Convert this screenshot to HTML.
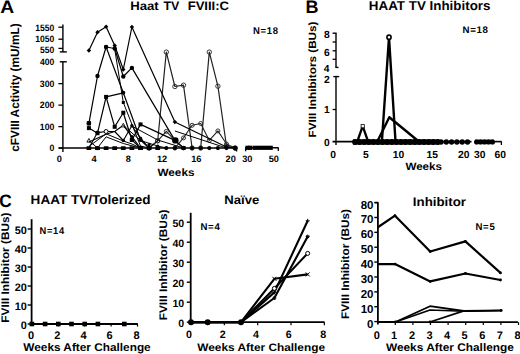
<!DOCTYPE html>
<html><head><meta charset="utf-8"><style>
html,body{margin:0;padding:0;background:#fff;}
svg{display:block;}
text{font-family:"Liberation Sans",sans-serif;font-weight:bold;fill:#000;text-rendering:geometricPrecision;}
</style></head><body>
<svg width="520" height="354" viewBox="0 0 520 354">
<rect width="520" height="354" fill="#fff"/>
<text transform="translate(0.22,12.70) scale(1.0697,1)" font-size="18">A</text>
<text transform="translate(130.14,9.60) scale(1.0785,1)" font-size="12.2">Haat</text>
<text transform="translate(163.38,9.60) scale(1.0213,1)" font-size="12.2">TV</text>
<text transform="translate(187.65,9.60) scale(1.0729,1)" font-size="12.2">FVIII:C</text>
<text transform="translate(252.98,34.40) scale(0.9704,1)" font-size="9.8" letter-spacing="0.7">N=18</text>
<text transform="translate(18.60,151.77) rotate(-90) scale(0.9854,1)" font-size="12.0">cFVIII Activity (mU/mL)</text>
<line x1="62.90" y1="24.40" x2="62.90" y2="51.90" stroke="#000" stroke-width="1.4" />
<line x1="59.80" y1="51.90" x2="66.80" y2="51.90" stroke="#000" stroke-width="1.4" />
<line x1="58.40" y1="27.20" x2="62.90" y2="27.20" stroke="#000" stroke-width="1.3" />
<line x1="58.40" y1="39.20" x2="62.90" y2="39.20" stroke="#000" stroke-width="1.3" />
<line x1="58.40" y1="48.40" x2="62.90" y2="48.40" stroke="#000" stroke-width="1.3" />
<line x1="62.90" y1="61.80" x2="62.90" y2="151.90" stroke="#000" stroke-width="1.4" />
<line x1="59.80" y1="61.80" x2="66.80" y2="61.80" stroke="#000" stroke-width="1.4" />
<line x1="58.40" y1="83.66" x2="62.90" y2="83.66" stroke="#000" stroke-width="1.3" />
<line x1="58.40" y1="105.14" x2="62.90" y2="105.14" stroke="#000" stroke-width="1.3" />
<line x1="58.40" y1="126.62" x2="62.90" y2="126.62" stroke="#000" stroke-width="1.3" />
<line x1="58.40" y1="148.10" x2="62.90" y2="148.10" stroke="#000" stroke-width="1.3" />
<text transform="translate(35.31,30.90) scale(0.9300,1)" font-size="9.2">1550</text>
<text transform="translate(35.31,42.00) scale(0.9300,1)" font-size="9.2">1050</text>
<text transform="translate(40.10,52.70) scale(0.9300,1)" font-size="9.2">550</text>
<text transform="translate(40.10,64.80) scale(0.9300,1)" font-size="9.2">400</text>
<text transform="translate(39.80,86.96) scale(0.9500,1)" font-size="9.2">300</text>
<text transform="translate(39.80,108.44) scale(0.9500,1)" font-size="9.2">200</text>
<text transform="translate(39.80,129.92) scale(0.9500,1)" font-size="9.2">100</text>
<text transform="translate(49.50,151.40) scale(0.9500,1)" font-size="9.2">0</text>
<line x1="58.80" y1="148.10" x2="236.80" y2="148.10" stroke="#000" stroke-width="1.5" />
<line x1="245.20" y1="147.80" x2="278.60" y2="147.80" stroke="#000" stroke-width="1.5" />
<line x1="278.30" y1="147.80" x2="278.30" y2="151.00" stroke="#000" stroke-width="1.3" />
<text transform="translate(56.75,161.90) scale(1.0000,1)" font-size="9.2">0</text>
<text transform="translate(91.60,161.90) scale(1.0000,1)" font-size="9.2">4</text>
<text transform="translate(125.85,161.90) scale(1.0000,1)" font-size="9.2">8</text>
<text transform="translate(156.98,161.90) scale(1.0000,1)" font-size="9.2">12</text>
<text transform="translate(191.26,161.90) scale(1.0000,1)" font-size="9.2">16</text>
<text transform="translate(225.62,161.90) scale(1.0000,1)" font-size="9.2">20</text>
<text transform="translate(242.26,161.90) scale(1.0000,1)" font-size="9.2">30</text>
<text transform="translate(268.64,161.90) scale(1.0000,1)" font-size="9.2">50</text>
<text transform="translate(157.50,175.60) scale(1.0969,1)" font-size="10.7">Weeks</text>
<polyline points="149.10,148.00 157.70,140.80 166.30,52.10 174.90,86.50 183.50,85.20 192.10,148.00" fill="none" stroke="#222" stroke-width="1.2" stroke-linejoin="round" />
<circle cx="149.10" cy="148.00" r="2.20" fill="none" stroke="#222" stroke-width="0.9"/>
<circle cx="157.70" cy="140.80" r="2.20" fill="none" stroke="#222" stroke-width="0.9"/>
<circle cx="166.30" cy="52.10" r="2.20" fill="none" stroke="#222" stroke-width="0.9"/>
<circle cx="174.90" cy="86.50" r="2.20" fill="none" stroke="#222" stroke-width="0.9"/>
<circle cx="183.50" cy="85.20" r="2.20" fill="none" stroke="#222" stroke-width="0.9"/>
<circle cx="192.10" cy="148.00" r="2.20" fill="none" stroke="#222" stroke-width="0.9"/>
<polyline points="200.70,148.00 209.30,52.10 217.90,86.20 226.50,146.00 235.10,148.00" fill="none" stroke="#222" stroke-width="1.2" stroke-linejoin="round" />
<circle cx="200.70" cy="148.00" r="2.20" fill="none" stroke="#222" stroke-width="0.9"/>
<circle cx="209.30" cy="52.10" r="2.20" fill="none" stroke="#222" stroke-width="0.9"/>
<circle cx="217.90" cy="86.20" r="2.20" fill="none" stroke="#222" stroke-width="0.9"/>
<circle cx="226.50" cy="146.00" r="2.20" fill="none" stroke="#222" stroke-width="0.9"/>
<circle cx="235.10" cy="148.00" r="2.20" fill="none" stroke="#222" stroke-width="0.9"/>
<polyline points="174.90,148.00 183.50,137.90 192.10,125.30 200.70,123.50 209.30,140.40 217.90,130.90 226.50,144.00 235.10,148.00" fill="none" stroke="#222" stroke-width="1.1" stroke-linejoin="round" />
<circle cx="174.90" cy="148.00" r="2.00" fill="none" stroke="#222" stroke-width="0.9"/>
<circle cx="183.50" cy="137.90" r="2.00" fill="none" stroke="#222" stroke-width="0.9"/>
<circle cx="192.10" cy="125.30" r="2.00" fill="none" stroke="#222" stroke-width="0.9"/>
<circle cx="200.70" cy="123.50" r="2.00" fill="none" stroke="#222" stroke-width="0.9"/>
<circle cx="209.30" cy="140.40" r="2.00" fill="none" stroke="#222" stroke-width="0.9"/>
<circle cx="217.90" cy="130.90" r="2.00" fill="none" stroke="#222" stroke-width="0.9"/>
<circle cx="226.50" cy="144.00" r="2.00" fill="none" stroke="#222" stroke-width="0.9"/>
<circle cx="235.10" cy="148.00" r="2.00" fill="none" stroke="#222" stroke-width="0.9"/>
<polyline points="149.10,148.00 157.70,140.80 166.30,131.40 174.90,140.40" fill="none" stroke="#222" stroke-width="1.1" stroke-linejoin="round" />
<circle cx="149.10" cy="148.00" r="2.00" fill="none" stroke="#222" stroke-width="0.9"/>
<circle cx="157.70" cy="140.80" r="2.00" fill="none" stroke="#222" stroke-width="0.9"/>
<circle cx="166.30" cy="131.40" r="2.00" fill="none" stroke="#222" stroke-width="0.9"/>
<circle cx="174.90" cy="140.40" r="2.00" fill="none" stroke="#222" stroke-width="0.9"/>
<polyline points="88.90,50.50 97.50,32.20 106.10,26.80 114.70,45.50 123.30,69.50 131.90,27.00 174.90,122.00 226.50,147.00 235.10,148.00" fill="none" stroke="#000" stroke-width="1.2" stroke-linejoin="round" />
<path d="M88.90,48.30L91.10,50.50L88.90,52.70L86.70,50.50Z" fill="#000"/>
<path d="M97.50,30.00L99.70,32.20L97.50,34.40L95.30,32.20Z" fill="#000"/>
<path d="M106.10,24.60L108.30,26.80L106.10,29.00L103.90,26.80Z" fill="#000"/>
<path d="M114.70,43.30L116.90,45.50L114.70,47.70L112.50,45.50Z" fill="#000"/>
<path d="M123.30,67.30L125.50,69.50L123.30,71.70L121.10,69.50Z" fill="#000"/>
<path d="M131.90,24.80L134.10,27.00L131.90,29.20L129.70,27.00Z" fill="#000"/>
<path d="M174.90,119.80L177.10,122.00L174.90,124.20L172.70,122.00Z" fill="#000"/>
<path d="M226.50,144.80L228.70,147.00L226.50,149.20L224.30,147.00Z" fill="#000"/>
<path d="M235.10,145.80L237.30,148.00L235.10,150.20L232.90,148.00Z" fill="#000"/>
<polyline points="88.90,123.30 97.50,76.00 106.10,47.00 114.70,48.50 123.30,76.50 131.90,67.90 174.90,140.40 183.50,148.00" fill="none" stroke="#000" stroke-width="1.2" stroke-linejoin="round" />
<circle cx="88.90" cy="123.30" r="2.20" fill="#000"/>
<circle cx="97.50" cy="76.00" r="2.20" fill="#000"/>
<circle cx="106.10" cy="47.00" r="2.20" fill="#000"/>
<circle cx="114.70" cy="48.50" r="2.20" fill="#000"/>
<circle cx="123.30" cy="76.50" r="2.20" fill="#000"/>
<circle cx="131.90" cy="67.90" r="2.20" fill="#000"/>
<circle cx="174.90" cy="140.40" r="2.20" fill="#000"/>
<circle cx="183.50" cy="148.00" r="2.20" fill="#000"/>
<rect x="86.80" y="121.20" width="4.20" height="4.20" fill="#000"/>
<polyline points="106.10,47.00 123.30,92.80 140.50,140.00 149.10,148.00" fill="none" stroke="#000" stroke-width="1.2" stroke-linejoin="round" />
<circle cx="106.10" cy="47.00" r="2.00" fill="#000"/>
<circle cx="123.30" cy="92.80" r="2.00" fill="#000"/>
<circle cx="140.50" cy="140.00" r="2.00" fill="#000"/>
<circle cx="149.10" cy="148.00" r="2.00" fill="#000"/>
<polyline points="114.70,49.00 123.30,102.50 140.50,146.00 149.10,148.00" fill="none" stroke="#000" stroke-width="1.0" stroke-linejoin="round" />
<polyline points="88.90,128.10 97.50,133.20 106.10,96.90 114.70,126.80 123.30,112.70 131.90,140.00 140.50,148.00" fill="none" stroke="#000" stroke-width="1.2" stroke-linejoin="round" />
<rect x="86.90" y="126.10" width="4.00" height="4.00" fill="#000"/>
<rect x="95.50" y="131.20" width="4.00" height="4.00" fill="#000"/>
<rect x="104.10" y="94.90" width="4.00" height="4.00" fill="#000"/>
<rect x="112.70" y="124.80" width="4.00" height="4.00" fill="#000"/>
<rect x="121.30" y="110.70" width="4.00" height="4.00" fill="#000"/>
<rect x="129.90" y="138.00" width="4.00" height="4.00" fill="#000"/>
<rect x="138.50" y="146.00" width="4.00" height="4.00" fill="#000"/>
<polyline points="106.10,96.90 123.30,92.80" fill="none" stroke="#000" stroke-width="1.2" stroke-linejoin="round" />
<polyline points="131.90,140.00 140.50,124.40 174.90,140.40 183.50,148.00" fill="none" stroke="#000" stroke-width="1.2" stroke-linejoin="round" />
<rect x="129.90" y="138.00" width="4.00" height="4.00" fill="#000"/>
<rect x="138.50" y="122.40" width="4.00" height="4.00" fill="#000"/>
<rect x="172.90" y="138.40" width="4.00" height="4.00" fill="#000"/>
<rect x="181.50" y="146.00" width="4.00" height="4.00" fill="#000"/>
<polyline points="88.90,140.50 97.50,148.00" fill="none" stroke="#000" stroke-width="1.0" stroke-linejoin="round" />
<path d="M88.90,138.50L90.90,142.10L86.90,142.10Z" fill="#fff" stroke="#000" stroke-width="0.9"/>
<path d="M97.50,146.00L99.50,149.60L95.50,149.60Z" fill="#fff" stroke="#000" stroke-width="0.9"/>
<polyline points="88.90,148.00 97.50,132.60 106.10,131.50 114.70,131.50 123.30,125.30 131.90,136.60 140.50,148.00" fill="none" stroke="#000" stroke-width="1.1" stroke-linejoin="round" />
<polyline points="88.90,142.00 106.10,134.30 114.70,131.50 123.30,140.50 131.90,125.80 140.50,138.20 149.10,148.00" fill="none" stroke="#000" stroke-width="1.1" stroke-linejoin="round" />
<polyline points="88.90,146.50 106.10,133.80 123.30,141.00 131.90,144.00 140.50,148.00" fill="none" stroke="#000" stroke-width="1.0" stroke-linejoin="round" />
<polyline points="97.50,148.00 106.10,136.80 123.30,143.50 140.50,148.00" fill="none" stroke="#000" stroke-width="1.0" stroke-linejoin="round" />
<rect x="121.80" y="101.00" width="3.00" height="3.00" fill="#000"/>
<circle cx="97.50" cy="132.60" r="2.00" fill="#000"/>
<circle cx="106.10" cy="131.50" r="2.00" fill="#fff" stroke="#000" stroke-width="1.0"/>
<path d="M123.30,123.30L125.30,126.90L121.30,126.90Z" fill="#fff" stroke="#000" stroke-width="0.9"/>
<circle cx="131.90" cy="125.80" r="1.70" fill="#000"/>
<circle cx="123.30" cy="140.50" r="1.70" fill="#000"/>
<circle cx="131.90" cy="136.60" r="1.60" fill="#000"/>
<circle cx="140.50" cy="138.20" r="1.70" fill="#000"/>
<polyline points="174.90,131.00 226.50,148.00" fill="none" stroke="#000" stroke-width="1.0" stroke-linejoin="round" />
<polyline points="131.90,126.10 157.70,140.00 183.50,148.00" fill="none" stroke="#000" stroke-width="1.0" stroke-linejoin="round" />
<polyline points="123.30,125.30 140.50,140.50 157.70,146.00 166.30,148.00" fill="none" stroke="#000" stroke-width="1.0" stroke-linejoin="round" />
<circle cx="149.10" cy="144.50" r="1.60" fill="#000"/>
<circle cx="157.70" cy="146.20" r="1.60" fill="#000"/>
<circle cx="175.40" cy="140.40" r="3.20" fill="#000"/>
<rect x="86.50" y="146.2" width="4.8" height="3.8" rx="0.6" fill="#000"/>
<rect x="95.10" y="146.2" width="4.8" height="3.8" rx="0.6" fill="#000"/>
<rect x="103.70" y="146.2" width="4.8" height="3.8" rx="0.6" fill="#000"/>
<rect x="112.30" y="146.2" width="4.8" height="3.8" rx="0.6" fill="#000"/>
<rect x="120.90" y="146.2" width="4.8" height="3.8" rx="0.6" fill="#000"/>
<rect x="129.50" y="146.2" width="4.8" height="3.8" rx="0.6" fill="#000"/>
<rect x="138.10" y="146.2" width="4.8" height="3.8" rx="0.6" fill="#000"/>
<rect x="146.70" y="146.2" width="4.8" height="3.8" rx="0.6" fill="#000"/>
<rect x="155.30" y="146.2" width="4.8" height="3.8" rx="0.6" fill="#000"/>
<circle cx="166.30" cy="148.10" r="2.10" fill="#000"/>
<circle cx="174.90" cy="148.10" r="2.10" fill="#000"/>
<circle cx="183.50" cy="148.10" r="2.10" fill="#000"/>
<circle cx="192.10" cy="148.10" r="2.10" fill="#000"/>
<circle cx="200.70" cy="148.10" r="2.10" fill="#000"/>
<circle cx="209.30" cy="148.10" r="2.10" fill="#000"/>
<circle cx="217.90" cy="148.10" r="2.10" fill="#000"/>
<circle cx="226.50" cy="148.10" r="2.10" fill="#000"/>
<circle cx="235.10" cy="148.10" r="2.10" fill="#000"/>
<line x1="236.60" y1="148.10" x2="236.60" y2="151.50" stroke="#000" stroke-width="1.3" />
<path d="M232.5,146.5L237.5,146.5L235,151Z" fill="#000"/>
<line x1="245.60" y1="147.80" x2="245.60" y2="151.30" stroke="#000" stroke-width="1.3" />
<rect x="245.40" y="145.70" width="4.20" height="4.20" fill="#000"/>
<rect x="247.90" y="145.70" width="4.20" height="4.20" fill="#000"/>
<line x1="252.50" y1="147.80" x2="272.80" y2="147.80" stroke="#000" stroke-width="4.2" />
<text transform="translate(305.43,12.70) scale(1.0018,1)" font-size="18">B</text>
<text transform="translate(368.83,10.40) scale(1.0379,1)" font-size="12.9">HAAT TV Inhibitors</text>
<text transform="translate(462.47,32.50) scale(1.0094,1)" font-size="9.6" letter-spacing="0.7">N=18</text>
<text transform="translate(315.80,137.46) rotate(-90) scale(1.1070,1)" font-size="10.6">FVIII Inhibitors (BUs)</text>
<line x1="336.00" y1="33.20" x2="336.00" y2="67.40" stroke="#000" stroke-width="1.4" />
<line x1="332.60" y1="33.20" x2="336.60" y2="33.20" stroke="#000" stroke-width="1.4" />
<line x1="335.40" y1="67.40" x2="338.50" y2="67.40" stroke="#000" stroke-width="1.4" />
<line x1="332.60" y1="42.00" x2="336.00" y2="42.00" stroke="#000" stroke-width="1.3" />
<line x1="332.60" y1="50.80" x2="336.00" y2="50.80" stroke="#000" stroke-width="1.3" />
<line x1="332.60" y1="59.30" x2="336.00" y2="59.30" stroke="#000" stroke-width="1.3" />
<line x1="336.00" y1="76.60" x2="336.00" y2="145.00" stroke="#000" stroke-width="1.4" />
<line x1="333.30" y1="76.60" x2="339.20" y2="76.60" stroke="#000" stroke-width="1.4" />
<line x1="332.60" y1="109.50" x2="336.00" y2="109.50" stroke="#000" stroke-width="1.3" />
<text transform="translate(323.99,37.90) scale(1.0000,1)" font-size="10.3">8</text>
<text transform="translate(324.04,55.60) scale(1.0000,1)" font-size="10.3">6</text>
<text transform="translate(323.74,71.70) scale(1.0000,1)" font-size="10.3">4</text>
<text transform="translate(324.10,82.90) scale(1.0000,1)" font-size="10.3">2</text>
<text transform="translate(323.94,113.20) scale(1.0000,1)" font-size="10.3">1</text>
<text transform="translate(324.10,146.00) scale(1.0000,1)" font-size="10.3">0</text>
<line x1="332.50" y1="141.60" x2="471.50" y2="141.60" stroke="#000" stroke-width="1.6" />
<line x1="474.80" y1="141.60" x2="501.70" y2="141.60" stroke="#000" stroke-width="1.6" />
<line x1="501.40" y1="141.60" x2="501.40" y2="145.00" stroke="#000" stroke-width="1.3" />
<text transform="translate(330.14,157.60) scale(1.0000,1)" font-size="10.3">0</text>
<text transform="translate(363.02,157.60) scale(1.0000,1)" font-size="10.3">5</text>
<text transform="translate(392.85,157.60) scale(1.0000,1)" font-size="10.3">10</text>
<text transform="translate(426.58,157.60) scale(1.0000,1)" font-size="10.3">15</text>
<text transform="translate(458.11,157.60) scale(1.0000,1)" font-size="10.3">20</text>
<text transform="translate(474.06,157.60) scale(1.0000,1)" font-size="10.3">30</text>
<text transform="translate(494.51,157.60) scale(1.0000,1)" font-size="10.3">60</text>
<text transform="translate(405.40,169.80) scale(1.0848,1)" font-size="10.7">Weeks</text>
<polyline points="357.30,141.50 362.70,126.20 368.10,141.50" fill="none" stroke="#000" stroke-width="2.3" stroke-linejoin="round" />
<rect x="361.10" y="124.60" width="3.20" height="3.20" fill="#fff" stroke="#000" stroke-width="0.8"/>
<polyline points="381.90,141.50 389.00,37.40 395.50,141.50" fill="none" stroke="#000" stroke-width="2.4" stroke-linejoin="round" stroke-miterlimit="20"/>
<circle cx="389.00" cy="37.20" r="2.10" fill="#fff" stroke="#000" stroke-width="1.6"/>
<polyline points="377.30,141.50 389.30,117.20 418.80,141.50" fill="none" stroke="#000" stroke-width="2.4" stroke-linejoin="round" />
<rect x="353" y="139.4" width="86" height="5.2" fill="#000"/>
<circle cx="355.00" cy="142.00" r="2.90" fill="#000"/>
<circle cx="359.60" cy="142.00" r="2.90" fill="#000"/>
<circle cx="364.20" cy="142.00" r="2.90" fill="#000"/>
<circle cx="368.80" cy="142.00" r="2.90" fill="#000"/>
<circle cx="373.40" cy="142.00" r="2.90" fill="#000"/>
<circle cx="378.00" cy="142.00" r="2.90" fill="#000"/>
<circle cx="382.60" cy="142.00" r="2.90" fill="#000"/>
<circle cx="387.20" cy="142.00" r="2.90" fill="#000"/>
<circle cx="391.80" cy="142.00" r="2.90" fill="#000"/>
<circle cx="396.40" cy="142.00" r="2.90" fill="#000"/>
<circle cx="401.00" cy="142.00" r="2.90" fill="#000"/>
<circle cx="405.60" cy="142.00" r="2.90" fill="#000"/>
<circle cx="410.20" cy="142.00" r="2.90" fill="#000"/>
<circle cx="414.80" cy="142.00" r="2.90" fill="#000"/>
<circle cx="419.40" cy="142.00" r="2.90" fill="#000"/>
<circle cx="424.00" cy="142.00" r="2.90" fill="#000"/>
<circle cx="428.60" cy="142.00" r="2.90" fill="#000"/>
<circle cx="433.20" cy="142.00" r="2.90" fill="#000"/>
<circle cx="437.80" cy="142.00" r="2.90" fill="#000"/>
<circle cx="441.00" cy="142.00" r="2.70" fill="#000"/>
<circle cx="446.30" cy="142.00" r="2.70" fill="#000"/>
<circle cx="451.60" cy="142.00" r="2.70" fill="#000"/>
<circle cx="456.90" cy="142.00" r="2.70" fill="#000"/>
<circle cx="462.20" cy="142.00" r="2.70" fill="#000"/>
<circle cx="467.50" cy="142.00" r="2.70" fill="#000"/>
<rect x="475" y="139.6" width="19" height="4.6" fill="#000"/>
<circle cx="476.50" cy="142.00" r="2.50" fill="#000"/>
<circle cx="480.50" cy="142.00" r="2.50" fill="#000"/>
<circle cx="484.50" cy="142.00" r="2.50" fill="#000"/>
<circle cx="488.50" cy="142.00" r="2.50" fill="#000"/>
<circle cx="492.50" cy="142.00" r="2.50" fill="#000"/>
<text transform="translate(-0.69,207.00) scale(0.9584,1)" font-size="18">C</text>
<text transform="translate(30.62,203.50) scale(1.0499,1)" font-size="12.9">HAAT TV/Tolerized</text>
<text transform="translate(39.59,233.50) scale(0.9529,1)" font-size="9.8" letter-spacing="0.7">N=14</text>
<text transform="translate(9.00,322.67) rotate(-90) scale(1.0728,1)" font-size="11.0">FVIII Inhibitor (BUs)</text>
<line x1="31.60" y1="219.20" x2="31.60" y2="324.00" stroke="#000" stroke-width="1.8" />
<line x1="27.60" y1="229.00" x2="31.60" y2="229.00" stroke="#000" stroke-width="1.4" />
<text transform="translate(14.64,233.50) scale(1.0000,1)" font-size="10.9">50</text>
<line x1="27.60" y1="248.00" x2="31.60" y2="248.00" stroke="#000" stroke-width="1.4" />
<text transform="translate(14.64,252.50) scale(1.0000,1)" font-size="10.9">40</text>
<line x1="27.60" y1="267.00" x2="31.60" y2="267.00" stroke="#000" stroke-width="1.4" />
<text transform="translate(14.64,271.50) scale(1.0000,1)" font-size="10.9">30</text>
<line x1="27.60" y1="286.00" x2="31.60" y2="286.00" stroke="#000" stroke-width="1.4" />
<text transform="translate(14.64,290.50) scale(1.0000,1)" font-size="10.9">20</text>
<line x1="27.60" y1="305.00" x2="31.60" y2="305.00" stroke="#000" stroke-width="1.4" />
<text transform="translate(14.64,309.50) scale(1.0000,1)" font-size="10.9">10</text>
<line x1="27.60" y1="324.00" x2="31.60" y2="324.00" stroke="#000" stroke-width="1.4" />
<text transform="translate(20.69,328.50) scale(1.0000,1)" font-size="10.9">0</text>
<line x1="31.60" y1="324.00" x2="137.90" y2="324.00" stroke="#000" stroke-width="1.8" />
<line x1="58.30" y1="324.00" x2="58.30" y2="326.60" stroke="#000" stroke-width="1.2" />
<line x1="84.70" y1="324.00" x2="84.70" y2="326.60" stroke="#000" stroke-width="1.2" />
<line x1="111.10" y1="324.00" x2="111.10" y2="326.60" stroke="#000" stroke-width="1.2" />
<line x1="137.50" y1="324.00" x2="137.50" y2="326.60" stroke="#000" stroke-width="1.2" />
<text transform="translate(27.95,339.30) scale(1.0000,1)" font-size="11.0">0</text>
<text transform="translate(54.27,339.30) scale(1.0000,1)" font-size="11.0">2</text>
<text transform="translate(80.39,339.30) scale(1.0000,1)" font-size="11.0">4</text>
<text transform="translate(106.55,339.30) scale(1.0000,1)" font-size="11.0">6</text>
<text transform="translate(133.45,339.30) scale(1.0000,1)" font-size="11.0">8</text>
<text transform="translate(23.30,351.30) scale(1.0561,1)" font-size="11.2">Weeks After Challenge</text>
<rect x="29.60" y="321.70" width="4.60" height="4.60" fill="#000"/>
<rect x="42.80" y="321.70" width="4.60" height="4.60" fill="#000"/>
<rect x="56.00" y="321.70" width="4.60" height="4.60" fill="#000"/>
<rect x="69.20" y="321.70" width="4.60" height="4.60" fill="#000"/>
<rect x="82.40" y="321.70" width="4.60" height="4.60" fill="#000"/>
<rect x="95.60" y="321.70" width="4.60" height="4.60" fill="#000"/>
<rect x="122.00" y="321.70" width="4.60" height="4.60" fill="#000"/>
<text transform="translate(224.35,203.60) scale(1.0650,1)" font-size="12.3">Naïve</text>
<text transform="translate(200.47,230.00) scale(0.9819,1)" font-size="9.8" letter-spacing="0.7">N=4</text>
<text transform="translate(166.70,320.37) rotate(-90) scale(1.0797,1)" font-size="11.0">FVIII Inhibitor (BUs)</text>
<line x1="190.70" y1="212.80" x2="190.70" y2="322.20" stroke="#000" stroke-width="1.8" />
<line x1="186.80" y1="222.20" x2="190.70" y2="222.20" stroke="#000" stroke-width="1.4" />
<text transform="translate(172.46,226.80) scale(1.0000,1)" font-size="10.6">50</text>
<line x1="186.80" y1="242.20" x2="190.70" y2="242.20" stroke="#000" stroke-width="1.4" />
<text transform="translate(172.46,246.80) scale(1.0000,1)" font-size="10.6">40</text>
<line x1="186.80" y1="262.20" x2="190.70" y2="262.20" stroke="#000" stroke-width="1.4" />
<text transform="translate(172.46,266.80) scale(1.0000,1)" font-size="10.6">30</text>
<line x1="186.80" y1="282.20" x2="190.70" y2="282.20" stroke="#000" stroke-width="1.4" />
<text transform="translate(172.46,286.80) scale(1.0000,1)" font-size="10.6">20</text>
<line x1="186.80" y1="302.20" x2="190.70" y2="302.20" stroke="#000" stroke-width="1.4" />
<text transform="translate(172.46,306.80) scale(1.0000,1)" font-size="10.6">10</text>
<line x1="186.80" y1="322.20" x2="190.70" y2="322.20" stroke="#000" stroke-width="1.4" />
<text transform="translate(178.34,326.80) scale(1.0000,1)" font-size="10.6">0</text>
<line x1="190.70" y1="322.20" x2="324.60" y2="322.20" stroke="#000" stroke-width="1.8" />
<line x1="224.34" y1="322.20" x2="224.34" y2="325.20" stroke="#000" stroke-width="1.2" />
<line x1="257.68" y1="322.20" x2="257.68" y2="325.20" stroke="#000" stroke-width="1.2" />
<line x1="291.02" y1="322.20" x2="291.02" y2="325.20" stroke="#000" stroke-width="1.2" />
<line x1="324.36" y1="322.20" x2="324.36" y2="325.20" stroke="#000" stroke-width="1.2" />
<text transform="translate(185.93,337.60) scale(1.0000,1)" font-size="10.7">0</text>
<text transform="translate(219.76,337.60) scale(1.0000,1)" font-size="10.7">2</text>
<text transform="translate(252.88,337.60) scale(1.0000,1)" font-size="10.7">4</text>
<text transform="translate(285.83,337.60) scale(1.0000,1)" font-size="10.7">6</text>
<text transform="translate(320.33,337.60) scale(1.0000,1)" font-size="10.7">8</text>
<text transform="translate(197.30,351.00) scale(1.0878,1)" font-size="10.9">Weeks After Challenge</text>
<polyline points="191.00,322.20 207.67,322.20 241.01,322.20 274.35,292.40 307.69,220.80" fill="none" stroke="#000" stroke-width="2.1" stroke-linejoin="round" />
<path d="M272.35,292.40H276.35M274.35,290.40V294.40" stroke="#000" stroke-width="1.0"/>
<path d="M305.69,220.80H309.69M307.69,218.80V222.80" stroke="#000" stroke-width="1.0"/>
<polyline points="191.00,322.20 207.67,322.20 241.01,322.20 274.35,298.00 307.69,236.60" fill="none" stroke="#000" stroke-width="2.1" stroke-linejoin="round" />
<path d="M272.35,298.00H276.35M274.35,296.00V300.00M272.95,296.60L275.75,299.40M272.95,299.40L275.75,296.60" stroke="#000" stroke-width="1.0"/>
<path d="M305.69,236.60H309.69M307.69,234.60V238.60M306.29,235.20L309.09,238.00M306.29,238.00L309.09,235.20" stroke="#000" stroke-width="1.0"/>
<polyline points="191.00,322.20 207.67,322.20 241.01,322.20 274.35,288.40 307.69,253.40" fill="none" stroke="#000" stroke-width="2.1" stroke-linejoin="round" />
<circle cx="274.35" cy="288.40" r="2.00" fill="#fff" stroke="#000" stroke-width="1.0"/>
<circle cx="307.69" cy="253.40" r="2.00" fill="#fff" stroke="#000" stroke-width="1.0"/>
<polyline points="191.00,322.20 207.67,322.20 241.01,322.20 274.35,278.80 307.69,274.40" fill="none" stroke="#000" stroke-width="2.1" stroke-linejoin="round" />
<path d="M272.35,276.80L276.35,280.80M272.35,280.80L276.35,276.80" stroke="#000" stroke-width="1.0"/>
<path d="M305.69,272.40L309.69,276.40M305.69,276.40L309.69,272.40" stroke="#000" stroke-width="1.0"/>
<circle cx="191.00" cy="322.20" r="3.00" fill="#000"/>
<circle cx="207.67" cy="322.20" r="3.00" fill="#000"/>
<circle cx="241.01" cy="322.20" r="3.00" fill="#000"/>
<text transform="translate(412.83,206.10) scale(1.0739,1)" font-size="12.4">Inhibitor</text>
<text transform="translate(475.47,230.20) scale(0.9815,1)" font-size="9.8" letter-spacing="0.7">N=5</text>
<text transform="translate(349.00,318.97) rotate(-90) scale(1.0708,1)" font-size="11.0">FVIII Inhibitor (BUs)</text>
<line x1="377.90" y1="202.60" x2="377.90" y2="324.50" stroke="#000" stroke-width="1.8" />
<line x1="374.70" y1="202.60" x2="378.40" y2="202.60" stroke="#000" stroke-width="1.6" />
<line x1="374.30" y1="202.60" x2="377.90" y2="202.60" stroke="#000" stroke-width="1.4" />
<text transform="translate(360.69,208.50) scale(1.0000,1)" font-size="11.5">80</text>
<line x1="374.30" y1="217.48" x2="377.90" y2="217.48" stroke="#000" stroke-width="1.4" />
<text transform="translate(360.69,223.45) scale(1.0000,1)" font-size="11.5">70</text>
<line x1="374.30" y1="232.35" x2="377.90" y2="232.35" stroke="#000" stroke-width="1.4" />
<text transform="translate(360.70,238.40) scale(1.0000,1)" font-size="11.5">60</text>
<line x1="374.30" y1="247.23" x2="377.90" y2="247.23" stroke="#000" stroke-width="1.4" />
<text transform="translate(360.69,253.35) scale(1.0000,1)" font-size="11.5">50</text>
<line x1="374.30" y1="262.10" x2="377.90" y2="262.10" stroke="#000" stroke-width="1.4" />
<text transform="translate(360.69,268.30) scale(1.0000,1)" font-size="11.5">40</text>
<line x1="374.30" y1="276.98" x2="377.90" y2="276.98" stroke="#000" stroke-width="1.4" />
<text transform="translate(360.69,283.25) scale(1.0000,1)" font-size="11.5">30</text>
<line x1="374.30" y1="291.85" x2="377.90" y2="291.85" stroke="#000" stroke-width="1.4" />
<text transform="translate(360.70,298.20) scale(1.0000,1)" font-size="11.5">20</text>
<line x1="374.30" y1="306.73" x2="377.90" y2="306.73" stroke="#000" stroke-width="1.4" />
<text transform="translate(360.69,313.15) scale(1.0000,1)" font-size="11.5">10</text>
<line x1="374.30" y1="321.60" x2="377.90" y2="321.60" stroke="#000" stroke-width="1.4" />
<text transform="translate(367.08,328.10) scale(1.0000,1)" font-size="11.5">0</text>
<line x1="377.90" y1="322.20" x2="517.90" y2="322.20" stroke="#000" stroke-width="1.8" />
<line x1="395.30" y1="322.20" x2="395.30" y2="325.00" stroke="#000" stroke-width="1.2" />
<line x1="412.90" y1="322.20" x2="412.90" y2="325.00" stroke="#000" stroke-width="1.2" />
<line x1="430.50" y1="322.20" x2="430.50" y2="325.00" stroke="#000" stroke-width="1.2" />
<line x1="448.10" y1="322.20" x2="448.10" y2="325.00" stroke="#000" stroke-width="1.2" />
<line x1="465.70" y1="322.20" x2="465.70" y2="325.00" stroke="#000" stroke-width="1.2" />
<line x1="483.30" y1="322.20" x2="483.30" y2="325.00" stroke="#000" stroke-width="1.2" />
<line x1="500.90" y1="322.20" x2="500.90" y2="325.00" stroke="#000" stroke-width="1.2" />
<line x1="518.50" y1="322.20" x2="518.50" y2="325.00" stroke="#000" stroke-width="1.2" />
<text transform="translate(373.65,338.60) scale(1.0000,1)" font-size="11.0">0</text>
<text transform="translate(391.03,338.60) scale(1.0000,1)" font-size="11.0">1</text>
<text transform="translate(408.88,338.60) scale(1.0000,1)" font-size="11.0">2</text>
<text transform="translate(426.50,338.60) scale(1.0000,1)" font-size="11.0">3</text>
<text transform="translate(443.99,338.60) scale(1.0000,1)" font-size="11.0">4</text>
<text transform="translate(461.62,338.60) scale(1.0000,1)" font-size="11.0">5</text>
<text transform="translate(479.25,338.60) scale(1.0000,1)" font-size="11.0">6</text>
<text transform="translate(496.85,338.60) scale(1.0000,1)" font-size="11.0">7</text>
<text transform="translate(514.45,338.60) scale(1.0000,1)" font-size="11.0">8</text>
<text transform="translate(385.90,351.40) scale(1.0796,1)" font-size="11.0">Weeks After Challenge</text>
<polyline points="377.50,227.50 395.00,215.70 430.20,251.50 465.40,241.40 500.50,272.90" fill="none" stroke="#000" stroke-width="2.2" stroke-linejoin="round" />
<polyline points="377.50,264.10 395.00,264.10 430.20,281.40 465.40,273.50 500.50,280.00" fill="none" stroke="#000" stroke-width="2.2" stroke-linejoin="round" />
<polyline points="377.90,322.00 395.50,322.00 430.00,306.20 463.80,311.00 501.20,310.50" fill="none" stroke="#000" stroke-width="1.8" stroke-linejoin="round" />
<polyline points="395.50,322.00 430.00,310.00 463.80,311.20 501.20,310.50" fill="none" stroke="#000" stroke-width="1.6" stroke-linejoin="round" />
<polyline points="430.00,322.00 463.80,310.80" fill="none" stroke="#000" stroke-width="1.8" stroke-linejoin="round" />
<circle cx="395.00" cy="215.70" r="1.40" fill="#000"/>
<circle cx="430.20" cy="251.50" r="1.40" fill="#000"/>
<circle cx="465.40" cy="241.40" r="1.40" fill="#000"/>
<circle cx="500.50" cy="272.90" r="1.40" fill="#000"/>
<circle cx="395.00" cy="264.10" r="1.40" fill="#000"/>
<circle cx="430.20" cy="281.40" r="1.40" fill="#000"/>
<circle cx="465.40" cy="273.50" r="1.40" fill="#000"/>
<circle cx="500.50" cy="280.00" r="1.40" fill="#000"/>
<circle cx="395.50" cy="322.00" r="1.40" fill="#000"/>
<circle cx="430.00" cy="322.00" r="1.40" fill="#000"/>
<circle cx="501.20" cy="310.50" r="1.40" fill="#000"/>
</svg>
</body></html>
